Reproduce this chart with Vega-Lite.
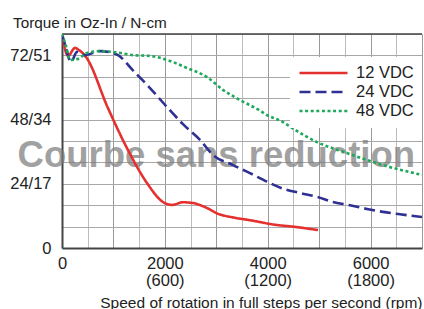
{
  "$schema": "https://vega.github.io/schema/vega-lite/v6.json",
  "width": 360,
  "height": 214,
  "autosize": "none",
  "padding": {"left": 62, "top": 34, "right": 2, "bottom": 61},
  "background": "white",
  "config": {
    "font": "Liberation Sans",
    "view": {"stroke": null},
    "axis": {"labelOverlap": false, "labelFlush": false, "ticks": false},
    "legend": {
      "orient": "none",
      "legendX": 228,
      "legendY": 23,
      "fillColor": "white",
      "padding": 8,
      "labelFontSize": 16.5,
      "labelColor": "#222",
      "labelFont": "Liberation Sans",
      "symbolSize": 2304,
      "symbolStrokeWidth": 2.5,
      "symbolType": "stroke",
      "clipHeight": 16,
      "rowPadding": 2,
      "labelOffset": 7
    }
  },
  "title": {
    "text": "Torque in Oz-In / N-cm",
    "anchor": "start",
    "frame": "group",
    "dx": -49,
    "dy": 5,
    "offset": 0,
    "fontSize": 15.3,
    "fontWeight": "normal",
    "color": "#222",
    "font": "Liberation Sans"
  },
  "datasets": {
    "curves": [
      {"s": "12 VDC", "v": 0, "t": 80},
      {"s": "12 VDC", "v": 117, "t": 71.8},
      {"s": "12 VDC", "v": 253, "t": 74.8},
      {"s": "12 VDC", "v": 330, "t": 74},
      {"s": "12 VDC", "v": 467, "t": 71.4},
      {"s": "12 VDC", "v": 894, "t": 52.3},
      {"s": "12 VDC", "v": 1283, "t": 36.6},
      {"s": "12 VDC", "v": 1652, "t": 24.3},
      {"s": "12 VDC", "v": 1963, "t": 17.2},
      {"s": "12 VDC", "v": 2139, "t": 16.1},
      {"s": "12 VDC", "v": 2352, "t": 17.1},
      {"s": "12 VDC", "v": 2547, "t": 16.8},
      {"s": "12 VDC", "v": 2780, "t": 15.3},
      {"s": "12 VDC", "v": 3033, "t": 12.8},
      {"s": "12 VDC", "v": 3363, "t": 11.3},
      {"s": "12 VDC", "v": 3655, "t": 10.4},
      {"s": "12 VDC", "v": 4141, "t": 8.7},
      {"s": "12 VDC", "v": 4530, "t": 7.9},
      {"s": "12 VDC", "v": 4977, "t": 6.7},
      {"s": "24 VDC", "v": 0, "t": 80},
      {"s": "24 VDC", "v": 78, "t": 74.8},
      {"s": "24 VDC", "v": 175, "t": 69.5},
      {"s": "24 VDC", "v": 292, "t": 73.3},
      {"s": "24 VDC", "v": 447, "t": 72.1},
      {"s": "24 VDC", "v": 739, "t": 73.6},
      {"s": "24 VDC", "v": 991, "t": 72.9},
      {"s": "24 VDC", "v": 1089, "t": 72.1},
      {"s": "24 VDC", "v": 1380, "t": 66.4},
      {"s": "24 VDC", "v": 1711, "t": 59.8},
      {"s": "24 VDC", "v": 2041, "t": 52.7},
      {"s": "24 VDC", "v": 2352, "t": 46.3},
      {"s": "24 VDC", "v": 2683, "t": 40.4},
      {"s": "24 VDC", "v": 2936, "t": 34.8},
      {"s": "24 VDC", "v": 3325, "t": 31},
      {"s": "24 VDC", "v": 3655, "t": 28},
      {"s": "24 VDC", "v": 3985, "t": 24.8},
      {"s": "24 VDC", "v": 4296, "t": 22.2},
      {"s": "24 VDC", "v": 4621, "t": 20.6},
      {"s": "24 VDC", "v": 4957, "t": 19.1},
      {"s": "24 VDC", "v": 5268, "t": 17.2},
      {"s": "24 VDC", "v": 5599, "t": 16},
      {"s": "24 VDC", "v": 5929, "t": 14.6},
      {"s": "24 VDC", "v": 6240, "t": 13.5},
      {"s": "24 VDC", "v": 6571, "t": 12.6},
      {"s": "24 VDC", "v": 7000, "t": 11.6},
      {"s": "48 VDC", "v": 0, "t": 80},
      {"s": "48 VDC", "v": 78, "t": 75.5},
      {"s": "48 VDC", "v": 156, "t": 70.3},
      {"s": "48 VDC", "v": 311, "t": 70.7},
      {"s": "48 VDC", "v": 486, "t": 72.9},
      {"s": "48 VDC", "v": 739, "t": 73.6},
      {"s": "48 VDC", "v": 991, "t": 73.3},
      {"s": "48 VDC", "v": 1380, "t": 72.1},
      {"s": "48 VDC", "v": 1711, "t": 71.8},
      {"s": "48 VDC", "v": 2041, "t": 70.3},
      {"s": "48 VDC", "v": 2430, "t": 67.3},
      {"s": "48 VDC", "v": 2819, "t": 63.9},
      {"s": "48 VDC", "v": 3130, "t": 59.1},
      {"s": "48 VDC", "v": 3461, "t": 55.3},
      {"s": "48 VDC", "v": 3810, "t": 51.8},
      {"s": "48 VDC", "v": 3985, "t": 49.7},
      {"s": "48 VDC", "v": 4296, "t": 47.1},
      {"s": "48 VDC", "v": 4471, "t": 44.9},
      {"s": "48 VDC", "v": 4957, "t": 39.6},
      {"s": "48 VDC", "v": 5540, "t": 35.5},
      {"s": "48 VDC", "v": 6240, "t": 31},
      {"s": "48 VDC", "v": 7000, "t": 27.3}
    ]
  },
  "layer": [
    {
      "data": {"values": [{"label": "Courbe sans reduction"}]},
      "mark": {"type": "text", "fontSize": 36.5, "fontWeight": "bold", "color": "#7a7a7a", "opacity": 0.7, "baseline": "alphabetic", "align": "center", "font": "Liberation Sans"},
      "encoding": {
        "x": {"datum": 3000, "type": "quantitative"},
        "y": {"datum": 30.4, "type": "quantitative"},
        "text": {"field": "label"}
      }
    },
    {
      "data": {"values": [{"edge": "top"}]},
      "mark": {"type": "rule", "color": "#444", "strokeWidth": 1.5},
      "encoding": {"y": {"datum": 80, "type": "quantitative"}}
    },
    {
      "data": {"name": "curves"},
      "mark": {"type": "line", "interpolate": "monotone", "strokeWidth": 2.6, "clip": true},
      "encoding": {
        "x": {
          "field": "v",
          "type": "quantitative",
          "scale": {"domain": [0, 7000], "nice": false, "zero": false},
          "axis": {
            "title": "Speed of rotation in full steps per second (rpm)",
            "titleFontSize": 15.5,
            "titleFontWeight": "normal",
            "titleColor": "#222",
            "titleFont": "Liberation Sans",
            "titleAnchor": "end",
            "titlePadding": 6.5,
            "values": [0, 500, 1000, 1500, 2000, 2500, 3000, 3500, 4000, 4500, 5000, 5500, 6000, 6500, 7000],
            "tickCount": 30,
            "labelExpr": "datum.value == 0 ? '0' : (datum.value % 2000 == 0 ? [format(datum.value, 'd'), '(' + format(datum.value * 0.3, 'd') + ')'] : '')",
            "labelFontSize": 16.5,
            "labelColor": "#222",
            "labelFont": "Liberation Sans",
            "labelLineHeight": 17,
            "labelPadding": 7,
            "labelFlush": false,
            "labelOverlap": false,
            "ticks": false,
            "domainColor": "#444",
            "domainWidth": 2,
            "grid": true,
            "gridColor": {"condition": {"test": "datum.value % 1000 == 0", "value": "#999999"}, "value": "#bdbdbd"},
            "gridWidth": 1,
            "gridOpacity": 1
          }
        },
        "y": {
          "field": "t",
          "type": "quantitative",
          "scale": {"domain": [0, 80], "nice": false},
          "axis": {
            "title": null,
            "values": [0, 8, 16, 24, 32, 40, 48, 56, 64, 72, 80],
            "tickCount": 30,
            "labelExpr": "datum.value == 0 ? '0' : datum.value == 24 ? '24/17' : datum.value == 48 ? '48/34' : datum.value == 72 ? '72/51' : ''",
            "labelFontSize": 16.5,
            "labelColor": "#222",
            "labelFont": "Liberation Sans",
            "labelPadding": 11,
            "labelOverlap": false,
            "labelFlush": false,
            "ticks": false,
            "domainColor": "#444",
            "domainWidth": 2,
            "grid": true,
            "gridColor": "#a8a8a8",
            "gridWidth": 1,
            "gridOpacity": 1
          }
        },
        "color": {
          "field": "s",
          "type": "nominal",
          "scale": {"domain": ["12 VDC", "24 VDC", "48 VDC"], "range": ["#e4312f", "#2e3192", "#1ea85a"]},
          "legend": {"title": null}
        },
        "strokeDash": {
          "field": "s",
          "type": "nominal",
          "scale": {"domain": ["12 VDC", "24 VDC", "48 VDC"], "range": [[1, 0], [11, 5], [3, 2.6]]},
          "legend": {"title": null}
        }
      }
    }
  ]
}
